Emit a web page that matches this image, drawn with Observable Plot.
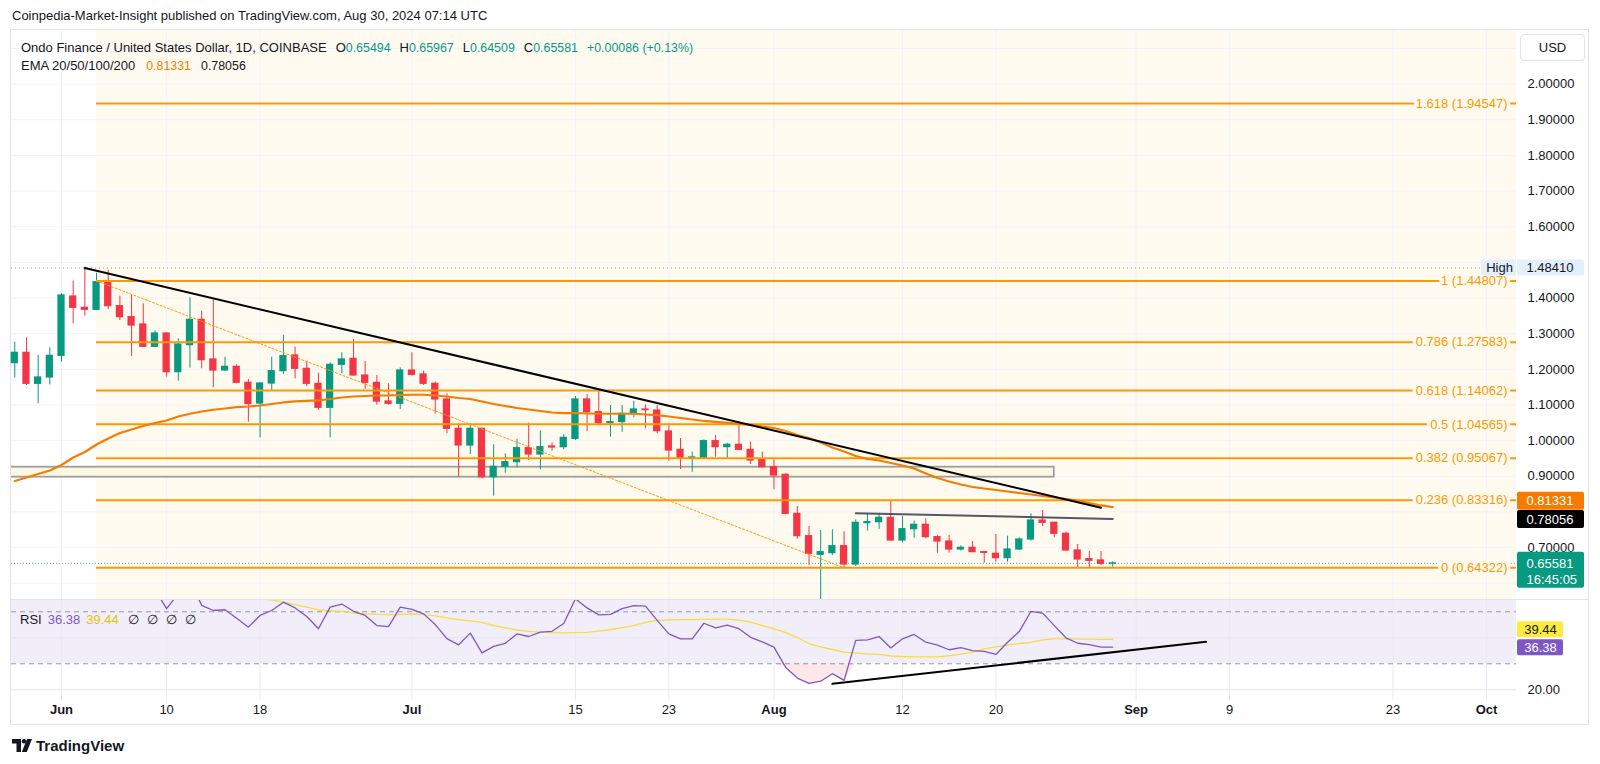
<!DOCTYPE html>
<html><head><meta charset="utf-8">
<script src="https://cdn.jsdelivr.net/npm/d3@7"></script>
<script src="https://cdn.jsdelivr.net/npm/@observablehq/plot@0.6"></script>
<style>
body{margin:0;background:#fff;}
#wrap{position:relative;width:1600px;height:764px;overflow:hidden;font-family:'Liberation Sans',Arial,sans-serif;color:#131722;font-size:13px;background:#fff;}
.abs{position:absolute;white-space:nowrap;line-height:15px;}
.g{color:#089981;}
.v{font-size:12.4px;}
</style></head><body><div id="wrap"></div>
<script>
// ---------- DATA ----------
const firstDay = "2024-05-28";
const lastDay = "2024-08-30";
const open = [1.2174,1.2464,1.1594,1.1772,1.2379,1.4044,1.3726,1.3670,1.4446,1.3773,
1.3464,1.3258,1.2632,1.3006,1.1921,1.2679,1.3389,1.2277,1.1968,1.2071,
1.1622,1.1042,1.1603,1.1949,1.2389,1.2015,1.1594,1.0921,1.2127,1.2295,
1.1828,1.1622,1.1098,1.1033,1.1968,1.1856,1.1594,1.1155,1.0332,0.9864,
1.0332,0.8976,0.9266,0.9397,0.9789,0.9612,0.9836,0.9817,1.0051,1.1155,
1.0799,1.0491,1.0519,1.0752,1.0874,1.0846,1.0257,0.9743,0.9500,0.9500,
0.9986,0.9817,0.9883,0.9743,0.9462,0.9256,0.9041,0.7947,0.7321,0.6797,
0.6844,0.7040,0.6526,0.7686,0.7714,0.7835,0.7199,0.7517,0.7639,0.7293,
0.7171,0.6947,0.6994,0.6872,0.6825,0.6704,0.6947,0.7228,0.7760,0.7695,
0.7387,0.6919,0.6676,0.6639,0.65494];
const high = [1.2763,1.2884,1.2389,1.2604,1.4118,1.4474,1.4841,1.4698,1.4780,1.4053,
1.4072,1.3838,1.3081,1.3020,1.2856,1.4006,1.3632,1.3950,1.2342,1.2127,
1.1725,1.1622,1.2342,1.2959,1.2622,1.2230,1.1893,1.2183,1.2464,1.2838,
1.2220,1.1828,1.1594,1.2043,1.2464,1.1949,1.1641,1.1313,1.0472,1.0472,
1.0360,0.9883,0.9630,1.0042,1.0491,1.0266,0.9939,1.0173,1.1239,1.1295,
1.1379,1.0986,1.0986,1.1108,1.1005,1.0986,1.0472,1.0061,0.9677,1.0023,
1.0145,0.9930,1.0519,0.9958,0.9677,0.9462,0.9069,0.8153,0.7592,0.7480,
0.7499,0.7442,0.7779,0.7947,0.7947,0.8321,0.7873,0.7742,0.7807,0.7330,
0.7340,0.7050,0.7171,0.6880,0.7368,0.7321,0.7274,0.7947,0.8041,0.7714,
0.7434,0.7088,0.6891,0.6891,0.65967];
const low = [1.1753,1.1547,1.1033,1.1566,1.2202,1.3277,1.3492,1.3651,1.3679,1.3370,
1.2361,1.2613,1.2613,1.1781,1.1669,1.2033,1.2015,1.1482,1.1949,1.1594,
1.0519,1.0079,1.1407,1.1856,1.1734,1.1519,1.0846,1.0079,1.1874,1.1809,
1.1435,1.0996,1.0996,1.0874,1.1809,1.1547,1.0752,1.0191,0.8976,0.9612,
0.8929,0.8443,0.9088,0.9238,0.9443,0.9182,0.9705,0.9752,1.0004,1.0257,
1.0472,1.0098,1.0238,1.0640,1.0332,1.0191,0.9425,0.9191,0.9116,0.9480,
0.9537,0.9500,0.9720,0.9331,0.9238,0.8621,0.7919,0.7237,0.6498,0.5530,
0.6779,0.6433,0.6470,0.7461,0.7508,0.7181,0.7134,0.7265,0.7246,0.6844,
0.6844,0.6900,0.6863,0.6564,0.6592,0.6592,0.6919,0.7181,0.7592,0.7274,
0.6891,0.6433,0.6433,0.6489,0.64509];
const close = [1.2464,1.1594,1.1772,1.2379,1.4072,1.3726,1.3670,1.4446,1.3773,1.3464,
1.3230,1.2632,1.3006,1.1921,1.2697,1.3389,1.2258,1.1968,1.2071,1.1622,
1.1024,1.1603,1.1949,1.2370,1.2015,1.1594,1.0921,1.2127,1.2277,1.1828,
1.1622,1.1098,1.1033,1.1968,1.1846,1.1594,1.1155,1.0332,0.9864,1.0332,
0.8976,0.9266,0.9397,0.9789,0.9612,0.9817,0.9808,1.0079,1.1155,1.0799,
1.0491,1.0519,1.0752,1.0874,1.0855,1.0266,0.9724,0.9509,0.9528,0.9986,
0.9817,0.9883,0.9743,0.9443,0.9256,0.9023,0.7947,0.7321,0.6825,0.6872,
0.7040,0.6526,0.7695,0.7714,0.7835,0.7199,0.7517,0.7639,0.7293,0.7171,
0.6947,0.6994,0.6872,0.6853,0.6704,0.6947,0.7228,0.7760,0.7695,0.7387,
0.6919,0.6667,0.6629,0.6545,0.65581];
const ema = [0.8869,0.8967,0.9065,0.9163,0.9317,0.9528,0.9682,0.9893,1.0061,1.0215,
1.0313,1.0411,1.0496,1.0566,1.0678,1.0754,1.0818,1.0866,1.0902,1.0939,
1.0958,1.0986,1.1028,1.1071,1.1099,1.1113,1.1127,1.1169,1.1211,1.1239,
1.1253,1.1267,1.1267,1.1281,1.1287,1.1287,1.1267,1.1239,1.1197,1.1169,
1.1099,1.1028,1.0972,1.0916,1.0874,1.0832,1.0790,1.0771,1.0776,1.0762,
1.0754,1.0754,1.0754,1.0754,1.0734,1.0715,1.0678,1.0636,1.0594,1.0552,
1.0524,1.0496,1.0473,1.0440,1.0397,1.0355,1.0271,1.0159,1.0075,0.9949,
0.9808,0.9696,0.9570,0.9486,0.9444,0.9374,0.9304,0.9219,0.9079,0.8953,
0.8855,0.8771,0.8700,0.8658,0.8616,0.8574,0.8532,0.8490,0.8448,0.8406,
0.8364,0.8322,0.8252,0.8182,0.81331];
const rsi = [58,56,57,61,72,68,67,71,66,63,
61,56,58.5,51.2,57,62,52.5,50.5,50.8,47.5,
44.1,48.6,50.5,53.7,51.5,48.2,43.5,51.8,53.0,50.2,
48.6,44.7,44.3,51.8,50.9,49.2,45.1,39.7,37.3,41.8,
34.2,36.7,37.9,41.5,40.5,42.2,42.5,45.5,55,51.5,
48.8,49.0,51.2,52.4,52.2,46.7,41.5,39.6,39.6,45.6,
43.8,44.9,43.5,40.2,38.4,36.4,28.6,24.5,22.5,23.3,
26.2,23.6,39.0,39.2,40.5,36.1,39.6,41.3,38.3,37.2,
35.4,36.2,35.1,34.8,33.6,38.3,42.4,50.2,49.5,44.7,
40.0,37.9,37.4,36.4,36.38];
const rsiMA = [62,62,61.5,61.5,62,62.5,63,63.5,64,64,
63.5,63,62.5,61.5,60.5,60,59,58,57,56.3,
55.6,55,54.6,53.7,52.8,51.8,50.7,50.4,50.2,49.6,
49.2,49.0,48.9,48.9,49.1,48.9,48.4,47.7,47.0,46.5,
45.9,44.7,43.8,43.0,42.5,42.2,42.0,41.9,42.0,42.1,
42.6,43.1,43.9,44.7,45.9,46.7,46.9,47.0,47.0,47.1,
47.2,47.2,46.8,46.0,44.7,43.5,42.0,40.1,37.8,36.5,
35.5,34.5,34.1,33.8,33.6,33.0,32.8,32.7,32.7,32.7,
33.1,33.7,34.5,35.7,36.5,37.2,37.8,38.2,39.2,39.6,
39.6,39.5,39.5,39.4,39.44];

const fibRatios = [1.618, 1, 0.786, 0.618, 0.5, 0.382, 0.236, 0];
const fibPrices = [1.94547, 1.44807, 1.27583, 1.14062, 1.04565, 0.95067, 0.83316, 0.64322];
const fibStart = "2024-06-04";
const fibEnd = "2024-08-07";

const trendDates = ["2024-06-03", "2024-08-29"];
const trendPrices = [1.4841, 0.8117];
const resistDates = ["2024-08-08", "2024-08-30"];
const resistPrices = [0.7965, 0.78056];
const zoneDates = ["2024-05-20", "2024-08-25"];
const zonePrices = [0.8975, 0.9255];
const rsiTrendDates = ["2024-08-06", "2024-09-07"];
const rsiTrendValues = [22.3, 38.5];

const highValue = 1.48410;
const lastClose = 0.65581;
const emaLast = 0.81331;
const lineLast = 0.78056;
const rsiLast = 36.38;
const rsiMALast = 39.44;
const change = "+0.00086 (+0.13%)";
const countdown = "16:45:05";

const priceTicks = [2.0, 1.9, 1.8, 1.7, 1.6, 1.4, 1.3, 1.2, 1.1, 1.0, 0.9, 0.7];
const priceGrid = [0.6, 0.7, 0.8, 0.9, 1.0, 1.1, 1.2, 1.3, 1.4, 1.5, 1.6, 1.7, 1.8, 1.9, 2.0, 2.1];
const monthTicks = ["2024-06-01", "2024-07-01", "2024-08-01", "2024-09-01", "2024-10-01"];
const dayTicks = ["2024-06-10", "2024-06-18", "2024-07-15", "2024-07-23", "2024-08-12", "2024-08-20", "2024-09-09", "2024-09-23"];
const rsiBands = [70, 50, 30];
const rsiGrid = [20, 40];
const rsiTicks = [20];

// ---------- BUILD ----------
const D = s => new Date(s + "T00:00:00Z");
const DAY = 864e5;
const dates = d3.utcDay.range(D(firstDay), d3.utcDay.offset(D(lastDay), 1));
const candles = dates.map((date, i) => ({date, open: open[i], high: high[i], low: low[i], close: close[i], ema: ema[i], rsi: rsi[i], ma: rsiMA[i]}));
const fib = fibRatios.map((r, i) => ({ratio: r, price: fibPrices[i]}));
const trend = trendDates.map((d, i) => ({date: D(d), v: trendPrices[i]}));
const resist = resistDates.map((d, i) => ({date: D(d), v: resistPrices[i]}));
const fibDiag = [{date: D(fibStart), v: fibPrices[1]}, {date: D(fibEnd), v: fibPrices[7]}];
const zone = [{x1: D(zoneDates[0]), x2: D(zoneDates[1]), y1: zonePrices[0], y2: zonePrices[1]}];
const rsiTrend = rsiTrendDates.map((d, i) => ({date: D(d), v: rsiTrendValues[i]}));
const allTicks = [...monthTicks, ...dayTicks].map(D);

// visible time window
const jun1 = +D("2024-06-01");
const xStart = new Date(jun1 - 4.281 * DAY);
const xEnd = new Date(jun1 + 124.572 * DAY);

const GREEN = "#089981", RED = "#f23645", ORANGE = "#ff9800";
const col = d => d.close >= d.open ? GREEN : RED;
const font = "'Liberation Sans', Arial, sans-serif";

function axisBox(value, o) {
  const v = [value];
  return [
    Plot.rect(v, {x1: () => xEnd, x2: () => xEnd, y1: d => d, y2: d => d,
      insetLeft: o.left ?? 1, insetRight: o.right ?? -68, insetTop: -(o.up ?? 9), insetBottom: -(o.down ?? 9),
      dy: o.dy ?? 0, fill: o.fill, rx: 2}),
    Plot.text(v, {x: () => xEnd, y: d => d, text: o.text ?? (d => d.toFixed(5)), dx: o.dx ?? 10, dy: o.dy ?? 0,
      textAnchor: o.anchor ?? "start", fill: o.color, fontSize: 13})
  ];
}

const pricePlot = Plot.plot({
  width: 1600, height: 570,
  marginLeft: 11, marginRight: 84, marginTop: 0, marginBottom: 0,
  x: {type: "utc", domain: [xStart, xEnd], axis: null},
  y: {domain: [0.5516, 2.1505]},
  style: {fontFamily: font, fontSize: "13px", color: "#131722", background: "transparent", overflow: "visible"},
  marks: [
    Plot.rect([fibStart], {x1: d => D(d), x2: () => xEnd, fill: "#fffaf0"}),
    Plot.ruleY(priceGrid, {stroke: "#f0f3fa", strokeWidth: 1}),
    Plot.ruleX(allTicks, {stroke: "#f0f3fa", strokeWidth: 1}),
    Plot.rect(zone, {x1: "x1", x2: "x2", y1: "y1", y2: "y2", fill: "#fcf8e1", stroke: "#9e9e9e", strokeWidth: 1.8, clip: true}),
    Plot.ruleY([highValue], {stroke: "#9598a1", strokeDasharray: "1,3", strokeWidth: 1}),
    Plot.ruleY([lastClose], {stroke: GREEN, strokeDasharray: "1,2", strokeWidth: 1, strokeOpacity: 0.7}),
    Plot.ruleX(candles, {x: "date", y1: "low", y2: "high", stroke: col, strokeWidth: 1, clip: true}),
    Plot.rect(candles, {x1: d => new Date(+d.date - 0.31 * DAY), x2: d => new Date(+d.date + 0.31 * DAY),
      y1: "open", y2: "close", fill: col, insetTop: -0.6, insetBottom: -0.6}),
    Plot.ruleY(fib, {y: "price", x1: () => D(fibStart), x2: () => xEnd, stroke: ORANGE, strokeWidth: 2}),
    Plot.line(fibDiag, {x: "date", y: "v", stroke: ORANGE, strokeWidth: 1, strokeDasharray: "2,2"}),
    Plot.line(candles, {x: "date", y: "ema", stroke: "#f57c00", strokeWidth: 2.2, clip: true}),
    Plot.line(trend, {x: "date", y: "v", stroke: "#000000", strokeWidth: 2}),
    Plot.line(resist, {x: "date", y: "v", stroke: "#434651", strokeWidth: 2, strokeOpacity: 0.9}),
    Plot.text(fib, {x: () => xEnd, y: "price", text: d => `${d.ratio} (${d.price.toFixed(5)})`, textAnchor: "end", dx: -9,
      fill: ORANGE, stroke: "#fffaf0", strokeWidth: 7, fontSize: 13}),
    Plot.axisY({anchor: "right", ticks: priceTicks, tickFormat: d => d.toFixed(5), tickSize: 0, tickPadding: 11, fontSize: 13, label: null}),
    // High label
    Plot.rect([highValue], {x1: () => xEnd, x2: () => xEnd, y1: d => d, y2: d => d, insetLeft: -35, insetRight: 0, insetTop: -8, insetBottom: -8, fill: "#e3effd"}),
    Plot.text([highValue], {x: () => xEnd, y: d => d, text: () => "High", dx: -17, textAnchor: "middle", fill: "#131722", fontSize: 13}),
    ...axisBox(highValue, {fill: "#e3effd", color: "#131722", up: 8, down: 8}),
    ...axisBox(emaLast, {fill: "#f57c00", color: "#ffffff", dy: -6}),
    ...axisBox(lineLast, {fill: "#000000", color: "#ffffff", dy: 0.5}),
    Plot.rect([lastClose], {x1: () => xEnd, x2: () => xEnd, y1: d => d, y2: d => d, insetLeft: 1, insetRight: -68, insetTop: -11, insetBottom: -25, fill: GREEN, rx: 2}),
    Plot.text([lastClose], {x: () => xEnd, y: d => d, text: d => d.toFixed(5), dx: 10, textAnchor: "start", fill: "#fff", fontSize: 13}),
    Plot.text([countdown], {x: () => xEnd, y: () => lastClose, text: d => d, dx: 10, dy: 16, textAnchor: "start", fill: "#fff", fontSize: 13})
  ]
});

const rsiPlot = Plot.plot({
  width: 1600, height: 122,
  marginLeft: 11, marginRight: 84, marginTop: 0, marginBottom: 22,
  x: {type: "utc", domain: [xStart, xEnd]},
  y: {domain: [15.88, 54.35]},
  style: {fontFamily: font, fontSize: "13px", color: "#131722", background: "transparent", overflow: "visible"},
  marks: [
    Plot.rect([rsiBands], {y1: d => d[2], y2: d => d[0], fill: "#7e57c2", fillOpacity: 0.1, clip: true}),
    Plot.ruleY(rsiGrid, {stroke: "#e6e2f0", strokeWidth: 1}),
    Plot.ruleX(allTicks, {stroke: "#ebe8f3", strokeWidth: 1}),
    Plot.ruleY(rsiBands, {stroke: "#9598a1", strokeDasharray: "5,4", strokeWidth: 1, clip: true}),
    Plot.areaY(candles, {x: "date", y1: () => rsiBands[2], y2: d => Math.min(d.rsi, rsiBands[2]), fill: RED, fillOpacity: 0.12}),
    Plot.line(candles, {x: "date", y: "ma", stroke: "#f7dd3b", strokeWidth: 1.3, clip: true}),
    Plot.line(candles, {x: "date", y: "rsi", stroke: "#7e57c2", strokeWidth: 1.3, clip: true}),
    Plot.line(rsiTrend, {x: "date", y: "v", stroke: "#000000", strokeWidth: 2}),
    Plot.axisY({anchor: "right", ticks: rsiTicks, tickFormat: d => d.toFixed(2), tickSize: 0, tickPadding: 11, fontSize: 13, label: null}),
    Plot.axisX({ticks: dayTicks.map(D), tickFormat: "%-d", tickSize: 0, tickPadding: 4, fontSize: 13, label: null}),
    Plot.axisX({ticks: monthTicks.map(D), tickFormat: "%b", tickSize: 0, tickPadding: 4, fontSize: 13, fontWeight: "bold", label: null}),
    ...axisBox(rsiMALast, {fill: "#ffeb3b", color: "#131722", dy: -9.5, right: -47, up: 8, down: 8, text: d => d.toFixed(2), dx: 24, anchor: "middle"}),
    ...axisBox(rsiLast, {fill: "#7e57c2", color: "#ffffff", dy: 0.5, right: -47, up: 8, down: 8, text: d => d.toFixed(2), dx: 24, anchor: "middle"})
  ]
});

// ---------- LAYOUT ----------
const wrap = document.getElementById("wrap");
function div(html, css) { const e = document.createElement("div"); e.className = "abs"; e.style.cssText = css; e.innerHTML = html; wrap.appendChild(e); return e; }

div("", "left:10px;top:29px;width:1577px;height:694px;border:1px solid #e0e3eb;");
div("Coinpedia-Market-Insight published on TradingView.com, Aug 30, 2024 07:14 UTC", "left:12px;top:8px;font-size:13px;");
const p1 = div("", "left:0;top:30px;"); p1.appendChild(pricePlot);
const p2 = div("", "left:0;top:600px;"); p2.appendChild(rsiPlot);
div("", "left:11px;top:599px;width:1577px;height:1px;background:#e0e3eb;");
const ohlc = [["O", open[94]], ["H", high[94]], ["L", low[94]], ["C", close[94]]]
  .map(([k, v]) => `<span style="margin-left:9px">${k}<span class="g v">${v.toFixed(5)}</span></span>`).join("");
div(`Ondo Finance / United States Dollar, 1D, COINBASE${ohlc}<span class="g v" style="margin-left:9px">${change}</span>`, "left:21px;top:40px;");
div(`EMA 20/50/100/200<span class="v" style="margin-left:11px;color:#f57c00">${emaLast.toFixed(5)}</span><span class="v" style="margin-left:10px">${lineLast.toFixed(5)}</span>`, "left:21px;top:58px;");
div(`RSI<span style="margin-left:6px;color:#7e57c2">${rsiLast.toFixed(2)}</span><span style="margin-left:6px;color:#e8c400">${rsiMALast.toFixed(2)}</span><span style="margin-left:9px">∅</span><span style="margin-left:8px">∅</span><span style="margin-left:8px">∅</span><span style="margin-left:8px">∅</span>`, "left:20px;top:612px;");
div("USD", "left:1520px;top:34px;width:63px;height:25px;border:1px solid #e0e3eb;border-radius:4px;text-align:center;line-height:25px;font-size:13px;");
div(`<svg width="20" height="13" viewBox="0 0 20 13" style="vertical-align:-1px"><path d="M0 0h9v13H4.5V4.5H0z" fill="#131722"/><circle cx="12" cy="2.2" r="2.2" fill="#131722"/><path d="M15 0h5l-5.2 13h-5z" fill="#131722"/></svg><span style="margin-left:4px;font-weight:bold;font-size:15px;vertical-align:0px">TradingView</span>`, "left:12px;top:738px;");
</script></body></html>
